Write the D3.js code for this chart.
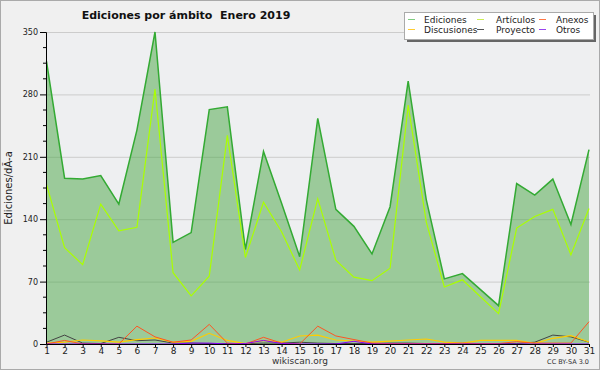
<!DOCTYPE html>
<html><head><meta charset="utf-8">
<script src="https://cdn.jsdelivr.net/npm/d3@7"></script>
<style>body{margin:0;background:#f0f0f0}svg{display:block}text{font-family:"DejaVu Sans",sans-serif;white-space:pre}</style>
</head><body>
<script>
const days = d3.range(1, 32);
const ediciones   = [317,186,185,189,157,240,350,114,125,263,266,106,216,158,98,253,151,132,101,154,295,162,73,79,61,43,180,167,185,134,218];
const articulos   = [179,108,89,157,127,131,286,80,54,76,234,97,159,126,83,163,94,75,71,85,268,137,64,72,53,34,130,143,151,100,152];
const anexos      = [0,4,0,0,0,20,8,2,4.5,22,1,0,7.5,1,0,20,9,5,1,0.5,0.5,0.5,0.5,1,0.5,0.5,2.6,1,1,1,25];
const discusiones = [1,2,4.5,3.5,2,5,6.7,2,3,12,4,0.5,4,2,9,10,4.5,3.3,2.2,3.3,4.5,5.6,2.2,1,4,4,4,0.7,6.4,9.3,2.2];
const proyecto    = [2,10,1,0.5,7.5,3.7,4.5,1,1,0.5,0.5,0.5,1,1,2,1,0.5,0.5,0.5,1,1,0.5,0.5,0.5,0.5,0.5,0.5,2,10,8,2];
const otros       = [0,0,0,0,0,0,0,0,1,1,0,0.5,4,0.5,0,0,0,3,0,0,0,0,0,0,0,0,0,0,0,0,0];
const yTicks = [0,70,140,210,280,350];
const title = "Ediciones por ámbito  Enero 2019";
const yLabel = "Ediciones/dÃ-a";
const legendItems = [
  {name:"Ediciones", color:"#80cc80"},
  {name:"Artículos", color:"#ccee55"},
  {name:"Anexos", color:"#ff7744"},
  {name:"Discusiones", color:"#ffcc33"},
  {name:"Proyecto", color:"#555555"},
  {name:"Otros", color:"#9944ee"}
];
const lines = [
  {vals:articulos, color:"#aaff00", w:1.2},
  {vals:proyecto, color:"#444444", w:1},
  {vals:discusiones, color:"#ffcc00", w:1.2},
  {vals:anexos, color:"#ff5522", w:1},
  {vals:otros, color:"#8800ff", w:1}
];

const W=600,H=370;
const svg=d3.select("body").append("svg").attr("width",W).attr("height",H);
svg.append("rect").attr("x",0.5).attr("y",0.5).attr("width",W-1).attr("height",H-1).attr("fill","#f0f0f0").attr("stroke","#aaaaaa");

const x=d3.scaleLinear().domain([1,31]).range([46.5,589]);
const y=d3.scaleLinear().domain([0,350]).range([344,32]);

svg.append("rect").attr("x",46).attr("y",32).attr("width",544).attr("height",312).attr("fill","#eeeff1");

svg.append("g").selectAll("line").data(yTicks.filter(d=>d>0)).join("line")
  .attr("x1",46).attr("x2",590).attr("y1",d=>y(d)+0.5).attr("y2",d=>y(d)+0.5)
  .attr("stroke","#cccccc").attr("stroke-width",1);

const area=d3.area().x((d,i)=>x(days[i])).y0(y(0)).y1(d=>y(d));
svg.append("path").datum(ediciones).attr("d",area).attr("fill","#48a644").attr("fill-opacity",0.5);
const line=d3.line().x((d,i)=>x(days[i])).y(d=>y(d));
svg.append("path").datum(ediciones).attr("d",line).attr("fill","none").attr("stroke","#33aa33").attr("stroke-width",1.5);
lines.forEach(s=>{
  svg.append("path").datum(s.vals).attr("d",line).attr("fill","none").attr("stroke",s.color).attr("stroke-width",s.w);
});

const yAxis=d3.axisLeft(y).tickValues(yTicks).tickSize(6).tickPadding(2);
const gy=svg.append("g").attr("transform","translate(46,0)").call(yAxis);
gy.selectAll("text").attr("font-size",8).attr("fill","#222").style("font-family","DejaVu Sans");
gy.select(".domain").attr("stroke","#000");
const minor=d3.range(0,350.1,17.5).filter(d=>d%70!==0);
svg.append("g").selectAll("line").data(minor).join("line")
  .attr("x1",43).attr("x2",46).attr("y1",d=>y(d)).attr("y2",d=>y(d)).attr("stroke","#000");

const xAxis=d3.axisBottom(x).tickValues(days).tickFormat(d3.format("d")).tickSize(3).tickPadding(1).tickSizeOuter(0);
const gx=svg.append("g").attr("transform","translate(0,344)").call(xAxis);
gx.selectAll("text").attr("font-size",9).attr("fill","#222").style("font-family","DejaVu Sans");
gx.select(".domain").attr("stroke","#000").attr("stroke-width",1.2);

svg.append("text").attr("x",186).attr("y",19).attr("text-anchor","middle").attr("font-size",11).attr("font-weight","bold").attr("fill","#111").text(title);
svg.append("text").attr("transform","translate(12,188) rotate(-90)").attr("text-anchor","middle").attr("font-size",10).attr("fill","#222").text(yLabel);
svg.append("text").attr("x",300).attr("y",364).attr("text-anchor","middle").attr("font-size",9).attr("fill","#333").text("wikiscan.org");
svg.append("text").attr("x",589).attr("y",364).attr("text-anchor","end").attr("font-size",6.5).attr("fill","#333").text("CC BY-SA 3.0");

const lg=svg.append("g");
lg.append("rect").attr("x",407).attr("y",15).attr("width",189).attr("height",27).attr("fill","#666");
lg.append("rect").attr("x",404.5).attr("y",12.5).attr("width",189).attr("height",27).attr("fill","#fff").attr("stroke","#aaa");
const cols=[[408,424],[477,496],[539,556]];
legendItems.forEach((it,i)=>{
  const c=cols[i%3], r=Math.floor(i/3);
  const yy=19.5+r*10;
  lg.append("line").attr("x1",c[0]).attr("x2",c[0]+7).attr("y1",yy).attr("y2",yy).attr("stroke",it.color).attr("stroke-width",1);
  lg.append("text").attr("x",c[1]).attr("y",yy+3.5).attr("font-size",9).attr("fill","#222").text(it.name);
});
</script>
</body></html>
